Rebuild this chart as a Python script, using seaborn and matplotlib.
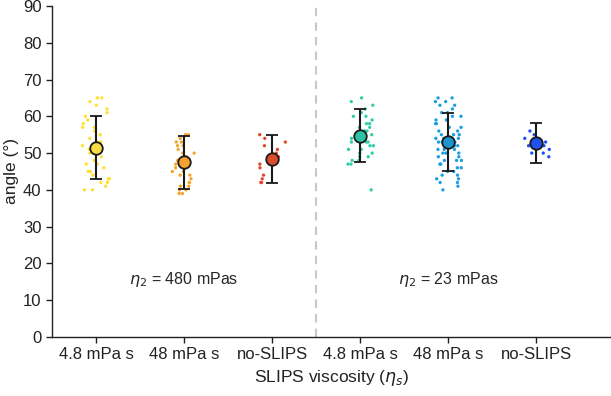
import numpy as np
import pandas as pd
import matplotlib
matplotlib.use("Agg")
import matplotlib.pyplot as plt
import seaborn as sns

# category labels (two groups of three)
groups = ["A 4.8", "A 48", "A no", "B 4.8", "B 48", "B no"]
tick_labels = ["4.8 mPa s", "48 mPa s", "no-SLIPS", "4.8 mPa s", "48 mPa s", "no-SLIPS"]

a_48 = [65, 65, 64, 63, 62, 61, 60, 59, 58, 57, 57, 56, 55, 54, 53, 53, 52, 52, 51, 50,
        50, 49, 48, 47, 47, 46, 45, 45, 44, 43, 43, 42, 42, 41, 40, 40]
a_480 = [55, 55, 54, 53, 53, 52, 52, 51, 50, 50, 49, 48, 48, 47, 47, 46, 46, 45, 45, 44,
         44, 43, 42, 42, 41, 41, 40, 40, 39, 39]
a_no = [55, 54, 53, 52, 51, 50, 49, 49, 48, 47, 46, 44, 43, 42, 42]
b_48 = [65, 64, 63, 62, 61, 60, 60, 59, 58, 58, 57, 57, 56, 56, 55, 55, 55, 54, 54, 53,
        53, 53, 52, 52, 51, 51, 50, 50, 49, 49, 48, 48, 47, 47, 40]
b_480 = [65, 65, 64, 64, 63, 63, 62, 61, 61, 60, 60, 59, 59, 58, 58, 57, 57, 56, 56, 55,
         55, 55, 54, 54, 54, 53, 53, 53, 52, 52, 52, 51, 51, 51, 50, 50, 50, 49, 49, 48,
         48, 48, 47, 47, 46, 46, 45, 45, 44, 44, 43, 43, 42, 42, 41, 40]
b_no = [56, 55, 54, 54, 53, 53, 52, 52, 51, 50, 50, 49]

# mean and standard deviation shown by the big markers
means = [51.5, 47.5, 48.5, 54.7, 53.0, 52.8]
sds = [8.5, 7.2, 6.5, 7.2, 8.0, 5.4]

point_colors = ["#FFE033", "#F6A52A", "#E6452A", "#2ECFA8", "#1B9FE0", "#1F4FF2"]
mean_colors = ["#F7DC45", "#F5A12E", "#DA4E2E", "#2DC3A2", "#1D94CC", "#2152EE"]

values = [a_48, a_480, a_no, b_48, b_480, b_no]
df = pd.DataFrame({
    "group": [g for g, v in zip(groups, values) for _ in v],
    "angle": [x for v in values for x in v],
})

sns.set_style("ticks")
plt.rcParams["font.family"] = ["Liberation Sans", "DejaVu Sans"]
plt.rcParams["mathtext.fontset"] = "dejavusans"

fig = plt.figure(figsize=(6.11, 3.96), dpi=100)
ax = fig.add_axes([0.085, 0.149, 0.915, 0.836])

np.random.seed(3)
sns.stripplot(data=df, x="group", y="angle", hue="group", order=groups,
              palette=dict(zip(groups, point_colors)), jitter=0.16, size=2.4,
              linewidth=0, legend=False, ax=ax)

for i in range(len(groups)):
    ax.errorbar(i, means[i], yerr=sds[i], fmt="o", color="#1a1a1a", ecolor="#1a1a1a",
                elinewidth=1.5, capsize=4.5, capthick=1.5, markersize=9,
                markerfacecolor=mean_colors[i], markeredgecolor="#1a1a1a",
                markeredgewidth=1.3, zorder=5)

ax.axvline(2.5, color="#c8c8c8", linestyle=(0, (4, 3)), linewidth=1.5, zorder=0)

ax.set_xlim(-0.5, 5.85)
ax.set_ylim(0, 90)
ax.set_yticks(range(0, 91, 10))
ax.set_xticks(range(6))
ax.set_xticklabels(tick_labels, fontsize=12)
ax.tick_params(axis="y", labelsize=12)
ax.tick_params(length=4, width=1, color="#222222", labelcolor="#222222")
ax.set_xlabel(r"SLIPS viscosity ($\eta_s$)", fontsize=12.5, color="#222222")
ax.set_ylabel("angle (°)", fontsize=12.5, labelpad=3, color="#222222")

ax.text(1, 15.5, r"$\eta_2$ = 480 mPas", ha="center", va="center", fontsize=11.5)
ax.text(4, 15.5, r"$\eta_2$ = 23 mPas", ha="center", va="center", fontsize=11.5)

for s in ["top", "right"]:
    ax.spines[s].set_visible(False)
for s in ["left", "bottom"]:
    ax.spines[s].set_color("#222222")
    ax.spines[s].set_linewidth(1)

fig.savefig("out.png", dpi=100)
